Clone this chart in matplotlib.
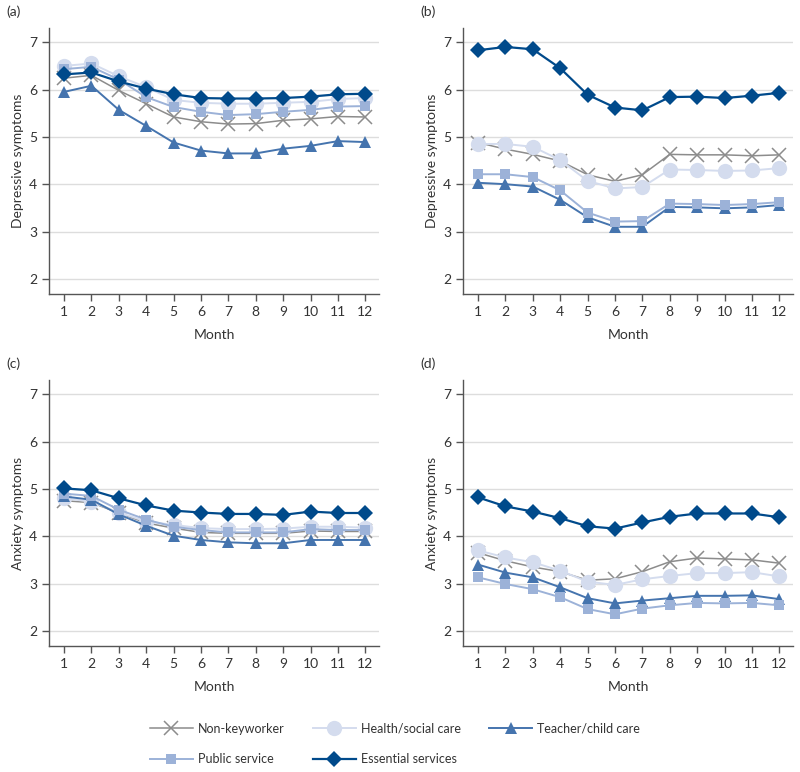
import matplotlib.pyplot as plt
from matplotlib.lines import Line2D

plt.rcParams['font.family'] = ['Lato', 'DejaVu Sans']

months = list(range(1, 13))
groups = ['Non-keyworker', 'Health/social care', 'Teacher/child care', 'Public service', 'Essential services']

# panel (a) depressive symptoms
dep_a = {
    'Non-keyworker': [6.24, 6.30, 5.98, 5.70, 5.42, 5.32, 5.27, 5.28, 5.35, 5.38, 5.43, 5.42],
    'Health/social care': [6.50, 6.55, 6.28, 6.05, 5.78, 5.72, 5.70, 5.70, 5.72, 5.74, 5.80, 5.82],
    'Teacher/child care': [5.95, 6.08, 5.57, 5.23, 4.88, 4.71, 4.65, 4.65, 4.75, 4.81, 4.91, 4.89],
    'Public service': [6.43, 6.48, 6.21, 5.84, 5.63, 5.53, 5.46, 5.48, 5.53, 5.57, 5.64, 5.65],
    'Essential services': [6.32, 6.36, 6.17, 6.02, 5.90, 5.82, 5.81, 5.81, 5.82, 5.85, 5.90, 5.91],
}
# panel (b) depressive symptoms
dep_b = {
    'Non-keyworker': [4.88, 4.74, 4.63, 4.49, 4.20, 4.06, 4.20, 4.63, 4.62, 4.62, 4.60, 4.62],
    'Health/social care': [4.85, 4.85, 4.79, 4.51, 4.07, 3.91, 3.94, 4.31, 4.30, 4.28, 4.29, 4.34],
    'Teacher/child care': [4.03, 4.00, 3.95, 3.67, 3.30, 3.10, 3.10, 3.52, 3.51, 3.49, 3.51, 3.56],
    'Public service': [4.21, 4.21, 4.15, 3.87, 3.40, 3.21, 3.22, 3.59, 3.58, 3.56, 3.58, 3.62],
    'Essential services': [6.83, 6.90, 6.85, 6.45, 5.89, 5.62, 5.56, 5.84, 5.85, 5.82, 5.87, 5.93],
}
# panel (c) anxiety symptoms
anx_c = {
    'Non-keyworker': [4.75, 4.71, 4.49, 4.28, 4.17, 4.08, 4.06, 4.06, 4.06, 4.11, 4.10, 4.10],
    'Health/social care': [4.80, 4.73, 4.50, 4.31, 4.24, 4.17, 4.15, 4.15, 4.16, 4.20, 4.20, 4.18],
    'Teacher/child care': [4.84, 4.77, 4.46, 4.22, 4.01, 3.92, 3.87, 3.85, 3.85, 3.92, 3.92, 3.92],
    'Public service': [4.90, 4.85, 4.56, 4.35, 4.20, 4.13, 4.08, 4.08, 4.08, 4.15, 4.13, 4.13],
    'Essential services': [5.01, 4.97, 4.80, 4.65, 4.54, 4.50, 4.47, 4.47, 4.45, 4.52, 4.49, 4.49],
}
# panel (d) anxiety symptoms
anx_d = {
    'Non-keyworker': [3.65, 3.48, 3.35, 3.25, 3.07, 3.10, 3.25, 3.46, 3.54, 3.52, 3.50, 3.43],
    'Health/social care': [3.70, 3.55, 3.45, 3.27, 3.04, 2.97, 3.09, 3.16, 3.22, 3.22, 3.24, 3.15],
    'Teacher/child care': [3.40, 3.23, 3.13, 2.92, 2.69, 2.58, 2.64, 2.69, 2.74, 2.74, 2.75, 2.67],
    'Public service': [3.13, 2.99, 2.88, 2.71, 2.46, 2.35, 2.47, 2.54, 2.59, 2.58, 2.59, 2.54],
    'Essential services': [4.82, 4.63, 4.52, 4.38, 4.21, 4.16, 4.29, 4.41, 4.48, 4.48, 4.48, 4.40],
}

styles = {
    'Non-keyworker': dict(color='#8c8c8c', marker='x', ms=10, mew=1.1, lw=1.1),
    'Health/social care': dict(color='#d4dcee', marker='o', ms=11, mew=0, lw=1.4),
    'Teacher/child care': dict(color='#4574ae', marker='^', ms=9, mew=0, lw=1.4),
    'Public service': dict(color='#9cb2d8', marker='s', ms=7.5, mew=0, lw=1.4),
    'Essential services': dict(color='#004a8b', marker='D', ms=8, mew=0, lw=1.6),
}

fig = plt.figure(figsize=(8, 7.72), dpi=100)
W, H = 800, 772
panels = [
    ('(a)', dep_a, 'Depressive symptoms', 49, 28),
    ('(b)', dep_b, 'Depressive symptoms', 463, 28),
    ('(c)', anx_c, 'Anxiety symptoms', 49, 380),
    ('(d)', anx_d, 'Anxiety symptoms', 463, 380),
]
for lab, data, ylab, x0, y0 in panels:
    ax = fig.add_axes([x0 / W, 1 - (y0 + 266) / H, 330 / W, 266 / H])
    for g in groups:
        ax.plot(months, data[g], **styles[g])
    ax.set_xlim(0.45, 12.5)
    ax.set_ylim(1.68, 7.3)
    ax.set_yticks([2, 3, 4, 5, 6, 7])
    ax.set_xticks(months)
    ax.grid(axis='y', color='#dddddd', lw=1)
    ax.set_axisbelow(True)
    for s in ['top', 'right']:
        ax.spines[s].set_visible(False)
    for s in ['left', 'bottom']:
        ax.spines[s].set_color('#555555')
        ax.spines[s].set_linewidth(1)
    ax.tick_params(colors='#333333', labelsize=10, length=5, width=1)
    ax.tick_params(axis='both', color='#555555')
    ax.set_xlabel('Month', fontsize=10, color='#333333', labelpad=8)
    ax.set_ylabel(ylab, fontsize=10, color='#333333')
    ax.text(-0.13, 1.06, lab, transform=ax.transAxes, fontsize=10, color='#333333', va='center')

handles = {g: Line2D([], [], **styles[g]) for g in groups}
order = ['Non-keyworker', 'Public service', 'Health/social care', 'Essential services', 'Teacher/child care']
fig.legend([handles[g] for g in order], order, ncol=3, loc='center',
           bbox_to_anchor=(395 / W, 1 - 744 / H), frameon=False, fontsize=9,
           handlelength=3.4, handletextpad=0.4, columnspacing=2.3, labelspacing=1.5,
           labelcolor='#333333')

fig.savefig('out.png', dpi=100)
